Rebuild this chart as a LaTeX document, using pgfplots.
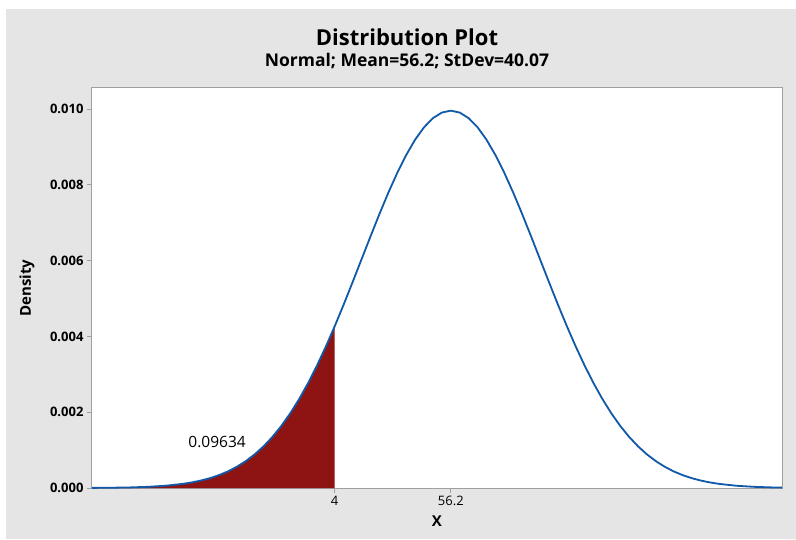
\documentclass[border=0pt]{standalone}
\usepackage{fontspec}
\setmainfont{Open Sans}
\usepackage{pgfplots}
\pgfplotsset{compat=1.18}
\usepackage{pgfplotstable}

\definecolor{bg}{RGB}{229,229,229}
\definecolor{curve}{RGB}{16,88,168}
\definecolor{shade}{RGB}{142,19,19}
\definecolor{framec}{RGB}{160,160,160}

\pgfplotstableread{
x y
-105 0.0000030
-104.08 0.0000033
-96.066 0.0000073
-88.052 0.0000153
-80.038 0.0000308
-72.024 0.0000595
-64.01 0.000111
-60.003 0.000149
-55.996 0.000198
-51.989 0.000260
-47.982 0.000339
-43.975 0.000437
-39.968 0.000559
-35.961 0.000707
-31.954 0.000885
-27.947 0.001098
-23.94 0.001347
-19.933 0.001638
-15.926 0.001970
-11.919 0.002347
-7.912 0.002768
-3.905 0.003232
0.102 0.003737
4 0.004261
4.109 0.004277
8.116 0.004846
12.123 0.005437
16.13 0.006039
20.137 0.006640
24.144 0.007230
28.151 0.007793
32.158 0.008316
36.165 0.008786
40.172 0.009191
44.179 0.009518
48.186 0.009759
52.193 0.009906
56.2 0.009956
60.207 0.009906
64.214 0.009759
68.221 0.009518
72.228 0.009191
76.235 0.008786
80.242 0.008316
84.249 0.007793
88.256 0.007230
92.263 0.006640
96.27 0.006039
100.277 0.005437
104.284 0.004846
108.291 0.004277
112.298 0.003737
116.305 0.003232
120.312 0.002768
124.319 0.002347
128.326 0.001970
132.333 0.001638
136.34 0.001347
140.347 0.001098
144.354 0.000885
148.361 0.000707
152.368 0.000559
156.375 0.000437
160.382 0.000339
164.389 0.000260
168.396 0.000198
172.403 0.000149
176.41 0.000111
184.424 0.0000595
192.438 0.0000308
200.452 0.0000153
205 0.0000101
}\curvetable

\pgfplotstableread{
x y
-105 0.0000030
-104.08 0.0000033
-96.066 0.0000073
-88.052 0.0000153
-80.038 0.0000308
-72.024 0.0000595
-64.01 0.000111
-60.003 0.000149
-55.996 0.000198
-51.989 0.000260
-47.982 0.000339
-43.975 0.000437
-39.968 0.000559
-35.961 0.000707
-31.954 0.000885
-27.947 0.001098
-23.94 0.001347
-19.933 0.001638
-15.926 0.001970
-11.919 0.002347
-7.912 0.002768
-3.905 0.003232
0.102 0.003737
4 0.004261
}\filltable

\begin{document}
\begin{tikzpicture}[x=1pt,y=1pt]
\fill[white] (0,0) rectangle (796,539);
\fill[bg] (6,0) rectangle (796,530);
\node[font=\fontsize{22}{26}\selectfont\bfseries] at (407,502) {Distribution Plot};
\node[font=\fontsize{17.5}{20}\selectfont\bfseries] at (407,478) {Normal; Mean=56.2; StDev=40.07};
\begin{axis}[
  at={(92pt,51pt)}, anchor=south west,
  scale only axis, width=690pt, height=400pt,
  xmin=-105, xmax=205, ymin=0, ymax=0.010554,
  scaled y ticks=false, scaled x ticks=false,
  axis background/.style={fill=white},
  axis line style={framec, line width=1pt},
  xtick={4,56.2}, xticklabels={4,56.2},
  ytick={0,0.002,0.004,0.006,0.008,0.010},
  yticklabels={0.000,0.002,0.004,0.006,0.008,0.010},
  xtick pos=bottom, ytick pos=left,
  tick align=outside, major tick length=5pt,
  tick style={framec, line width=0.8pt},
  xticklabel style={font=\fontsize{13}{15}\selectfont},
  yticklabel style={font=\fontsize{13}{15}\selectfont\bfseries},
  xlabel={X}, ylabel={Density},
  xlabel style={font=\fontsize{15}{18}\selectfont\bfseries, at={(axis description cs:0.5,-0.0825)}, anchor=center},
  ylabel style={font=\fontsize{15}{18}\selectfont\bfseries, at={(axis description cs:-0.0942,0.5)}, anchor=center},
  clip=true,
]
\addplot[draw=none, fill=shade] table[x=x,y=y] {\filltable} \closedcycle;
\addplot[curve, line width=1.8pt, line join=round] table[x=x,y=y] {\curvetable};
\node[font=\fontsize{15.5}{18}\selectfont] at (axis cs:-48.8,0.00121) {0.09634};
\end{axis}
\end{tikzpicture}
\end{document}
